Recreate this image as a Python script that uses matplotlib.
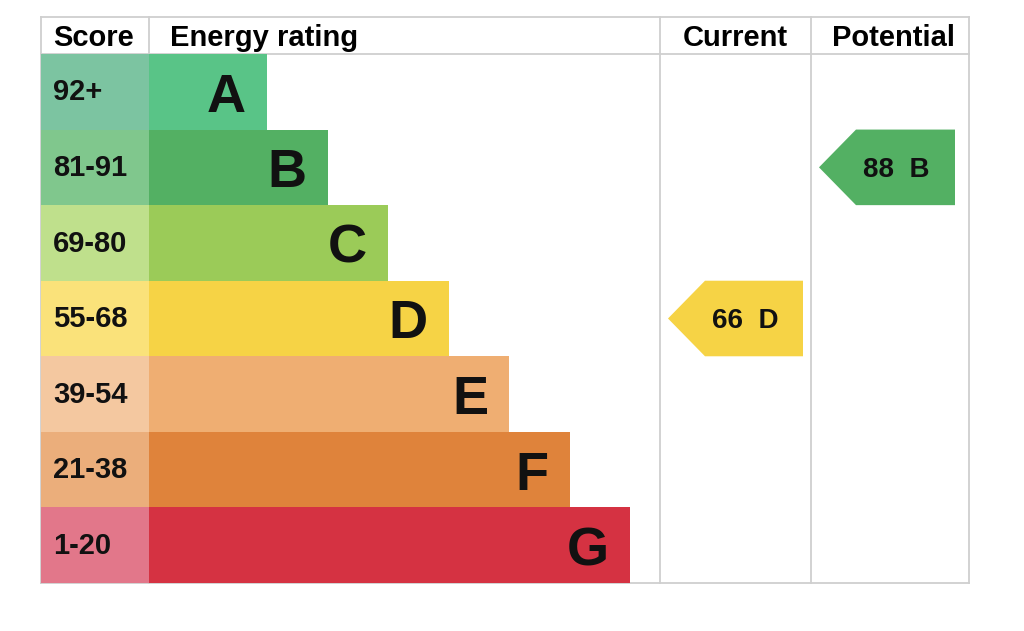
import matplotlib.pyplot as plt
from matplotlib.patches import Polygon

# data
bands = ["A", "B", "C", "D", "E", "F", "G"]
score_ranges = ["92+", "81-91", "69-80", "55-68", "39-54", "21-38", "1-20"]
band_min = [92, 81, 69, 55, 39, 21, 1]
bar_colors = ["#59c487", "#53b063", "#9bcb58", "#f6d345", "#efae72", "#df833b", "#d53242"]
score_colors = ["#7cc4a1", "#80c78d", "#bfe08c", "#fae27a", "#f4c8a0", "#ebae7b", "#e2778a"]
headers = ["Score", "Energy rating", "Current", "Potential"]
current = 66
potential = 88

FONT = ["Liberation Sans", "DejaVu Sans"]
GRID = "#cfcfcf"

# layout in pixels
left, x_score, x_cur, x_pot, right = 41, 149, 660, 811, 969
top, head_bottom, bottom = 17, 54, 583
row_h = (bottom - head_bottom) / len(bands)
bar_step = 60.5


def band_of(value):
    for i, m in enumerate(band_min):
        if value >= m:
            return i
    return len(bands) - 1


fig = plt.figure(figsize=(10.24, 6.31), dpi=100)
ax = fig.add_axes([0, 0, 1, 1])
ax.set_xlim(0, 1024)
ax.set_ylim(631, 0)
ax.axis("off")

# grid
for x in [left, x_score, x_cur, x_pot, right]:
    ax.plot([x, x], [top, bottom], color=GRID, lw=1.3, zorder=1)
for y in [top, head_bottom, bottom]:
    ax.plot([left, right], [y, y], color=GRID, lw=1.3, zorder=1)

# headers
hb = 46.5
hs = 21
ax.text(53, hb, headers[0], fontsize=hs, fontweight="bold", family=FONT, va="baseline", ha="left")
ax.text(170, hb, headers[1], fontsize=hs, fontweight="bold", family=FONT, va="baseline", ha="left")
ax.text((x_cur + x_pot) / 2, hb, headers[2], fontsize=hs, fontweight="bold", family=FONT,
        va="baseline", ha="center")
ax.text((x_pot + right) / 2 + 4, hb, headers[3], fontsize=hs, fontweight="bold", family=FONT,
        va="baseline", ha="center")

# bands
for i, (b, s) in enumerate(zip(bands, score_ranges)):
    y0 = head_bottom + i * row_h
    yc = y0 + row_h / 2
    ax.barh(yc, x_score - left, height=row_h, left=left, color=score_colors[i], lw=0, zorder=2)
    width = 118 + i * bar_step
    ax.barh(yc, width, height=row_h, left=x_score, color=bar_colors[i], lw=0, zorder=2)
    ax.text(53, yc + 8.7, s, fontsize=21, fontweight="bold", family=FONT, va="baseline",
            ha="left", color="#111111", zorder=3)
    ax.text(x_score + width - 21, yc + 20, b, fontsize=39, fontweight="bold", family=FONT,
            va="baseline", ha="right", color="#111111", zorder=3)


def arrow(value, x0, x1):
    i = band_of(value)
    y0 = head_bottom + i * row_h
    y1 = y0 + row_h
    yc = (y0 + y1) / 2
    pts = [(x0, yc), (x0 + 37, y0), (x1, y0), (x1, y1), (x0 + 37, y1)]
    ax.add_patch(Polygon(pts, closed=True, color=bar_colors[i], lw=0, zorder=2))
    ax.text(x0 + 77.5, yc + 9.4, f"{value}  {bands[i]}", fontsize=20, fontweight="bold",
            family=FONT, va="baseline", ha="center", color="#111111", zorder=3)


arrow(current, 668, 803)
arrow(potential, 819, 955)

fig.savefig("out.png", dpi=100, facecolor="white")
